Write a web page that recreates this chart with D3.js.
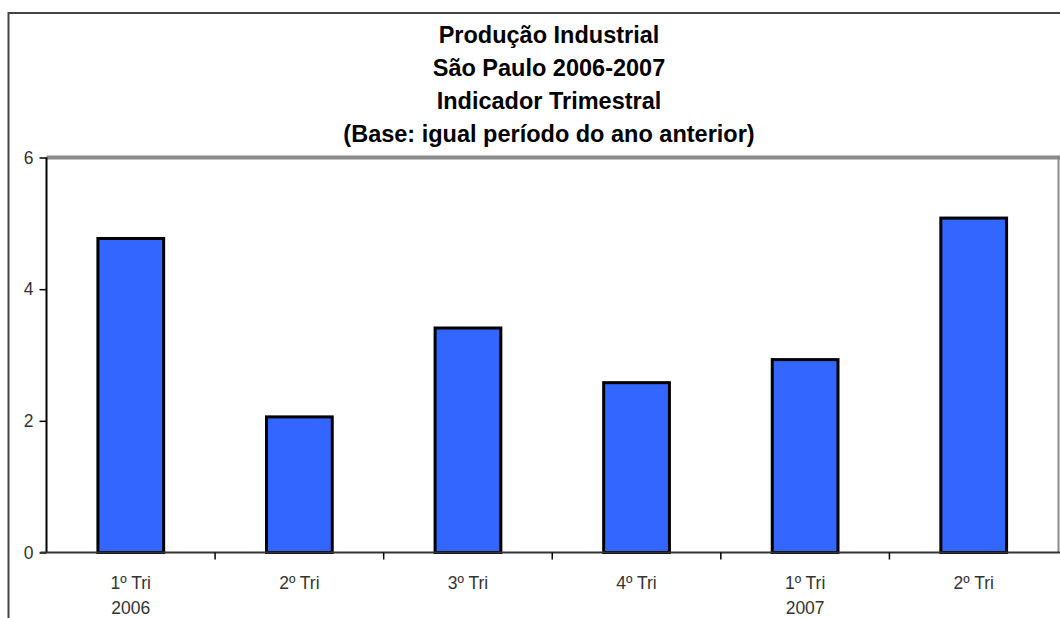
<!DOCTYPE html>
<html><head><meta charset="utf-8">
<script src="https://cdn.jsdelivr.net/npm/d3@7"></script>
<style>html,body{margin:0;padding:0;background:#fff;overflow:hidden}</style>
</head><body>
<svg id="c" width="1060" height="618"></svg>
<script>
const titleLines = ["Produção Industrial","São Paulo 2006-2007","Indicador Trimestral","(Base: igual período do ano anterior)"];
const categories = ["1º Tri|2006","2º Tri|","3º Tri|","4º Tri|","1º Tri|2007","2º Tri|"];
const values = [4.77, 2.06, 3.41, 2.58, 2.93, 5.08];
const yTicks = [0, 2, 4, 6];

const svg = d3.select("#c");
const m = {left:46.5, top:157.5, right:1058, bottom:552.5};

// outer chart border
svg.append("path").attr("d","M8.5,620 V13 H1062").attr("fill","none").attr("stroke","#444").attr("stroke-width",2);

const x = d3.scaleBand().domain(d3.range(categories.length)).range([m.left, m.right]).paddingInner(0.61).paddingOuter(0.305);
const y = d3.scaleLinear().domain([0,6]).range([m.bottom, m.top]);

// plot area borders
svg.append("line").attr("x1",m.left).attr("x2",1060).attr("y1",y(6)).attr("y2",y(6)).attr("stroke","#8a8a8a").attr("stroke-width",4);
svg.append("line").attr("x1",m.right+0.5).attr("x2",m.right+0.5).attr("y1",y(6)).attr("y2",m.bottom).attr("stroke","#8a8a8a").attr("stroke-width",2);

// bars
svg.append("g").selectAll("rect").data(values).join("rect")
  .attr("x",(d,i)=>x(i)).attr("width",x.bandwidth())
  .attr("y",d=>y(d)).attr("height",d=>y(0)-y(d))
  .attr("fill","#3366ff").attr("stroke","#000").attr("stroke-width",3);

// y axis
const ya = svg.append("g").attr("transform",`translate(${m.left},0)`)
  .call(d3.axisLeft(y).tickValues(yTicks).tickSize(7).tickPadding(6).tickFormat(d3.format("d")));
ya.select(".domain").attr("stroke","#000").attr("stroke-width",2).attr("d",`M0,${y(0)}V${y(6)}`);
ya.selectAll(".tick line").attr("stroke","#000").attr("stroke-width",1.5);
ya.selectAll(".tick text").attr("font-family","Liberation Sans, Arial, sans-serif").attr("font-size",17.5).attr("fill","#333");

// x axis
const xb = svg.append("g").attr("transform",`translate(0,${m.bottom})`);
xb.append("line").attr("x1",m.left-6).attr("x2",1060).attr("stroke","#333").attr("stroke-width",2);
const step = x.step();
const bounds = d3.range(1, categories.length).map(i => x(i) - x.paddingInner()*step/2);
xb.selectAll(".tk").data(bounds).join("line").attr("class","tk")
  .attr("x1",d=>d).attr("x2",d=>d).attr("y1",0).attr("y2",7).attr("stroke","#000").attr("stroke-width",1.5);
const lab = xb.selectAll(".lab").data(categories).join("text").attr("class","lab")
  .attr("x",(d,i)=>x(i)+x.bandwidth()/2).attr("text-anchor","middle")
  .attr("font-family","Liberation Sans, Arial, sans-serif").attr("font-size",17.5).attr("fill","#333");
lab.each(function(d){
  const parts = d.split("|");
  const t = d3.select(this);
  t.append("tspan").attr("x",t.attr("x")).attr("y",36).text(parts[0]);
  if(parts[1]) t.append("tspan").attr("x",t.attr("x")).attr("y",61).text(parts[1]);
});

// title
svg.append("g").selectAll("text").data(titleLines).join("text")
  .attr("x",549).attr("y",(d,i)=>43+i*33).attr("text-anchor","middle")
  .attr("font-family","Liberation Sans, Arial, sans-serif").attr("font-weight","bold").attr("font-size",23.5).attr("fill","#000")
  .attr("textLength",null)
  .text(d=>d);
</script>
</body></html>
